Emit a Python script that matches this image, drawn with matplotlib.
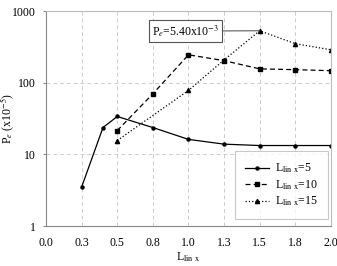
import numpy as np
import matplotlib.pyplot as plt

plt.rcParams['font.family'] = ['Liberation Serif', 'DejaVu Serif']
plt.rcParams['mathtext.fontset'] = 'stix'

# data
x5 = [0.25, 0.4, 0.5, 0.75, 1.0, 1.25, 1.5, 1.75, 2.0]
pe5 = [3.5, 23.7, 33.8, 23.7, 16.2, 13.9, 13.3, 13.3, 13.3]
x10 = [0.5, 0.75, 1.0, 1.25, 1.5, 1.75, 2.0]
pe10 = [21.5, 70, 245, 203, 156, 152, 147]
x15 = [0.5, 1.0, 1.25, 1.5, 1.75, 2.0]
pe15 = [15.6, 78, 208, 530, 350, 288]

xticks = [0.0, 0.25, 0.5, 0.75, 1.0, 1.25, 1.5, 1.75, 2.0]
xticklabels = ["0.0", "0.3", "0.5", "0.8", "1.0", "1.3", "1.5", "1.8", "2.0"]
yticks = [1, 10, 100, 1000]
peak_text = r"P$_e$=5.40x10$^{-3}$"

fig = plt.figure(figsize=(3.37, 2.66), dpi=100)
ax = fig.add_axes([0.1365, 0.150, 0.8455, 0.8086])

ax.plot(x5, pe5, '-', color='black', lw=0.9, marker='o', ms=2.2,
        label=r"L$_{\rm lin\ x}$=5")
ax.plot(x10, pe10, '--', color='black', lw=0.9, marker='s', ms=3,
        dashes=(4, 2.5), label=r"L$_{\rm lin\ x}$=10")
ax.plot(x15, pe15, ':', color='black', lw=0.9, marker='^', ms=3,
        label=r"L$_{\rm lin\ x}$=15")

ax.set_yscale('log')
ax.set_ylim(1, 1000)
ax.set_xlim(0, 2.0)
ax.set_xticks(xticks)
ax.set_xticklabels(xticklabels)
ax.set_yticks(yticks)
ax.set_yticklabels([str(v) for v in yticks])
ax.yaxis.set_minor_locator(plt.NullLocator())
ax.tick_params(labelsize=8.5, length=2.5, color='#888888', pad=5)
ax.tick_params(axis='x', length=0, pad=8)

ax.grid(True, ls=(0, (4, 3)), color='#cccccc', lw=0.7)
for s in ax.spines.values():
    s.set_color('#888888')
    s.set_linewidth(0.8)
ax.spines['top'].set_color('#bbbbbb')
ax.spines['right'].set_color('#bbbbbb')

ax.set_ylabel(r"P$_e$ (x10$^{-5}$)", fontsize=8.5)
ax.yaxis.set_label_coords(-0.105, 0.5)
ax.set_xlabel(r"L$_{\rm lin\ x}$", fontsize=8.5)
ax.xaxis.set_label_coords(0.5, -0.115)

ax.annotate(peak_text, xy=(x15[3], pe15[3]), xytext=(0.98, 525),
            ha='center', va='center', fontsize=8.5,
            bbox=dict(boxstyle='square,pad=0.25', fc='white', ec='#555555', lw=0.8),
            arrowprops=dict(arrowstyle='-', color='#444444', lw=0.7, shrinkA=0, shrinkB=0))

leg = ax.legend(loc='lower right', bbox_to_anchor=(0.99, 0.033), fontsize=8.5,
                frameon=True, fancybox=False, edgecolor='#bbbbbb',
                handlelength=2.0, borderaxespad=0.0, borderpad=0.9,
                labelspacing=0.25, handletextpad=0.5)
leg.get_frame().set_linewidth(0.8)

fig.savefig("out.png", dpi=100)
